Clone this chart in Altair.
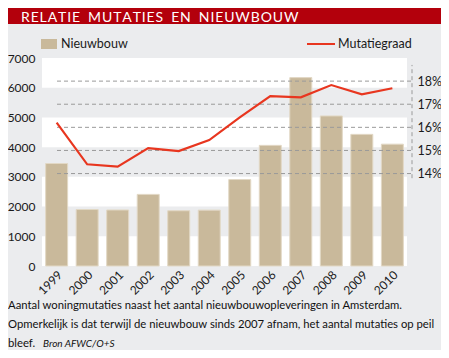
import altair as alt
import pandas as pd

years = ["1999", "2000", "2001", "2002", "2003", "2004", "2005", "2006", "2007", "2008", "2009", "2010"]
nieuwbouw = [3450, 1900, 1885, 2410, 1860, 1880, 2910, 4060, 6340, 5050, 4430, 4100]
mutatiegraad = [16.2, 14.4, 14.3, 15.1, 14.97, 15.45, 16.43, 17.35, 17.3, 17.83, 17.43, 17.69]
pct_ticks = [14, 15, 16, 17, 18]
band_lo = [5000, 3000, 1000]
band_hi = [6000, 4000, 2000]

title_text = "RELATIE MUTATIES EN NIEUWBOUW"
caption1 = "Aantal woningmutaties naast het aantal nieuwbouwopleveringen in Amsterdam."
caption2 = "Opmerkelijk is dat terwijl de nieuwbouw sinds 2007 afnam, het aantal mutaties op peil"
caption3 = "bleef."
source = "Bron AFWC/O+S"

df = pd.DataFrame({"jaar": years, "nieuwbouw": nieuwbouw, "mutatie": mutatiegraad})
bands_df = pd.DataFrame({"lo": band_lo, "hi": band_hi})
ticks_df = pd.DataFrame({"pct": pct_ticks})
vline_df = pd.DataFrame({"a": [13.8], "b": [18.7]})

W, H = 365, 208
FONT = "Lato"
CAPFONT = "Lato"
BAR = "#c9b99b"
RED = "#e8361f"

xenc = alt.X("jaar:O", scale=alt.Scale(paddingInner=0.28, paddingOuter=0.12),
             axis=alt.Axis(title=None, labelAngle=-45, ticks=False, domain=False, labelPadding=3,
                           labelFontSize=12, labelColor="#1a1a1a", labelFont=FONT))
cnt_scale = alt.Scale(domain=[0, 7000], nice=False)
cnt_axis = alt.Axis(title=None, values=list(range(0, 7001, 1000)), format="d", ticks=False, domain=False,
                    grid=False, labelPadding=7, labelFontSize=12, labelColor="#1a1a1a", labelFont=FONT)
pct_scale = alt.Scale(domain=[10, 19], nice=False, zero=False)
pct_axis = alt.Axis(title=None, orient="right", values=pct_ticks, labelExpr="datum.value + '%'",
                    ticks=False, domain=False, grid=False, labelPadding=10, labelFontSize=12.5,
                    labelColor="#1a1a1a", labelFont=FONT)

bands = alt.Chart(bands_df).mark_rect(color="#ebecee").encode(
    x=alt.value(0), x2=alt.value(W),
    y=alt.Y("lo:Q", scale=cnt_scale, axis=cnt_axis), y2="hi:Q")
bars = alt.Chart(df).mark_bar(color=BAR, stroke="#e2d8c5", strokeWidth=1).encode(
    x=xenc, y=alt.Y("nieuwbouw:Q", scale=cnt_scale, axis=cnt_axis))
left = alt.layer(bands, bars)

grid = alt.Chart(ticks_df).mark_rule(color="#9a9a9a", strokeDash=[4, 3], strokeWidth=1).encode(
    x=alt.value(15), x2=alt.value(370), y=alt.Y("pct:Q", scale=pct_scale, axis=pct_axis))
vline = alt.Chart(vline_df).mark_rule(color="#9a9a9a", strokeDash=[4, 3], strokeWidth=1).encode(
    x=alt.value(370), y=alt.Y("a:Q", scale=pct_scale, axis=pct_axis), y2="b:Q")
line = alt.Chart(df).mark_line(color=RED, strokeWidth=2.2).encode(
    x="jaar:O", y=alt.Y("mutatie:Q", scale=pct_scale, axis=pct_axis))
right = alt.layer(grid, vline, line)

one = alt.Data(values=[{}])
words = title_text.split(" ")
spaced = "\u00a0\u00a0\u200a".join("\u200a".join(list(w)) for w in words)
title_bar = alt.Chart(one).mark_rect(color="#b3000c").encode(
    x=alt.value(-40), x2=alt.value(405), y=alt.value(-60), y2=alt.value(-34))
title = alt.Chart(one).mark_text(align="left", baseline="alphabetic", fontSize=14, color="white",
                                 font=FONT).encode(
    x=alt.value(-21), y=alt.value(-36.5), text=alt.value(spaced))
leg_rect = alt.Chart(one).mark_rect(color=BAR).encode(
    x=alt.value(-1), x2=alt.value(15), y=alt.value(-19), y2=alt.value(-9))
leg_t1 = alt.Chart(one).mark_text(align="left", baseline="alphabetic", fontSize=12.5, color="#1a1a1a",
                                  font=FONT).encode(x=alt.value(19), y=alt.value(-10), text=alt.value("Nieuwbouw"))
leg_line = alt.Chart(one).mark_rule(color=RED, strokeWidth=2).encode(
    x=alt.value(265), x2=alt.value(293), y=alt.value(-14))
leg_t2 = alt.Chart(one).mark_text(align="left", baseline="alphabetic", fontSize=12.5, color="#1a1a1a",
                                  font=FONT).encode(x=alt.value(296), y=alt.value(-10), text=alt.value("Mutatiegraad"))

def cap(txt, x, y, size=11.3, style="normal"):
    return alt.Chart(one).mark_text(align="left", baseline="alphabetic", fontSize=size, color="#111111",
                                    font=CAPFONT, fontStyle=style).encode(
        x=alt.value(x), y=alt.value(y), text=alt.value(txt))

c1 = cap(caption1, -34, 251)
c2 = cap(caption2, -34, 270)
c3 = cap(caption3, -34, 289)
c4 = cap(source, 1, 289, size=10, style="italic")

chart = alt.layer(left, right, title_bar, title, leg_rect, leg_t1, leg_line, leg_t2, c1, c2, c3, c4
                  ).resolve_scale(y="independent").properties(
    width=W, height=H, autosize=alt.AutoSizeParams(type="none"),
    padding={"left": 34, "top": 50, "right": 34, "bottom": 84},
    background="#ebecee"
).configure_view(fill="white", stroke=None)

chart.save("out.html", embed_options={"renderer": "svg", "actions": False})
